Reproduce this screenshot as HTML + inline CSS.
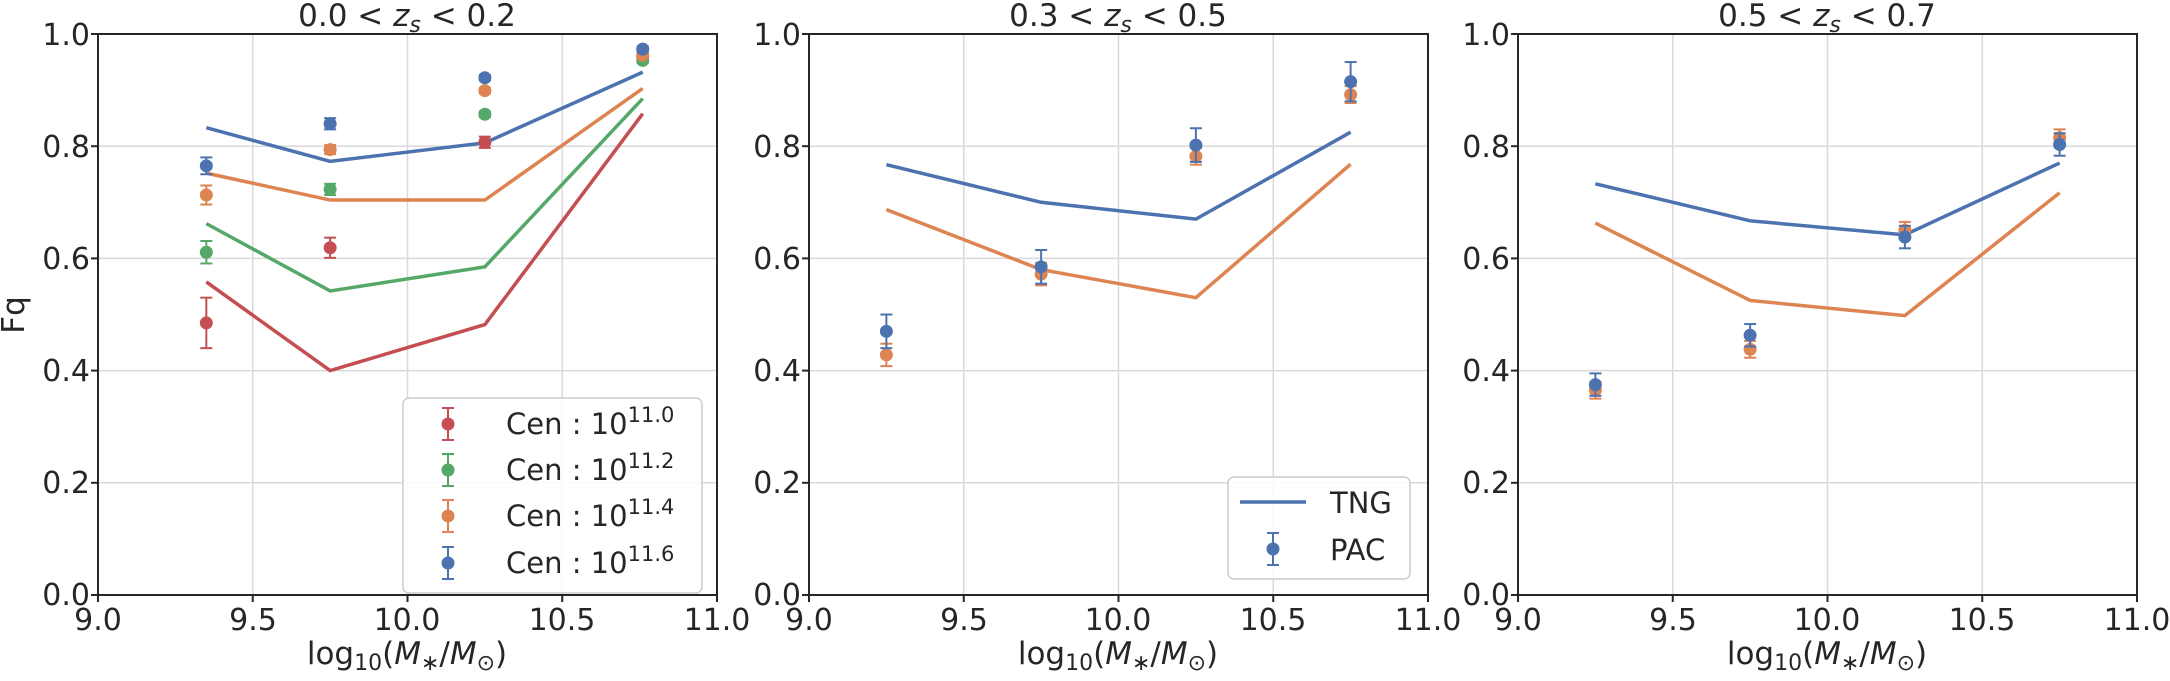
<!DOCTYPE html>
<html><head><meta charset="utf-8"><style>
body{margin:0;background:#fff}
svg text{font-family:"DejaVu Sans","Liberation Sans",sans-serif;fill:#262626}
</style></head><body>
<svg id="s" width="2170" height="676" xmlns="http://www.w3.org/2000/svg">
<g id="grid"></g>
<g id="data"></g>
<g font-size="31">
<text x="24" y="315" transform="rotate(-90 24 315)" text-anchor="middle">Fq</text>
<text x="407" y="26" text-anchor="middle">0.0 &lt; <tspan font-style="italic">z</tspan><tspan font-style="italic" font-size="22" dy="6">s</tspan><tspan dy="-6"> &lt; 0.2</tspan></text>
<text x="1118" y="26" text-anchor="middle">0.3 &lt; <tspan font-style="italic">z</tspan><tspan font-style="italic" font-size="22" dy="6">s</tspan><tspan dy="-6"> &lt; 0.5</tspan></text>
<text x="1827" y="26" text-anchor="middle">0.5 &lt; <tspan font-style="italic">z</tspan><tspan font-style="italic" font-size="22" dy="6">s</tspan><tspan dy="-6"> &lt; 0.7</tspan></text>
<text x="407" y="664" text-anchor="middle">log<tspan font-size="22" dy="6">10</tspan><tspan dy="-6">(</tspan><tspan font-style="italic">M</tspan><tspan font-size="22" dy="6">∗</tspan><tspan dy="-6">/</tspan><tspan font-style="italic">M</tspan><tspan font-size="22" dy="6">⊙</tspan><tspan dy="-6">)</tspan></text>
<text x="1118" y="664" text-anchor="middle">log<tspan font-size="22" dy="6">10</tspan><tspan dy="-6">(</tspan><tspan font-style="italic">M</tspan><tspan font-size="22" dy="6">∗</tspan><tspan dy="-6">/</tspan><tspan font-style="italic">M</tspan><tspan font-size="22" dy="6">⊙</tspan><tspan dy="-6">)</tspan></text>
<text x="1827" y="664" text-anchor="middle">log<tspan font-size="22" dy="6">10</tspan><tspan dy="-6">(</tspan><tspan font-style="italic">M</tspan><tspan font-size="22" dy="6">∗</tspan><tspan dy="-6">/</tspan><tspan font-style="italic">M</tspan><tspan font-size="22" dy="6">⊙</tspan><tspan dy="-6">)</tspan></text>
</g>
<g font-size="30" text-anchor="end" id="yt">
<text x="90" y="45">1.0</text><text x="90" y="157">0.8</text><text x="90" y="269">0.6</text><text x="90" y="381">0.4</text><text x="90" y="493">0.2</text><text x="90" y="605">0.0</text>
<text x="801" y="45">1.0</text><text x="801" y="157">0.8</text><text x="801" y="269">0.6</text><text x="801" y="381">0.4</text><text x="801" y="493">0.2</text><text x="801" y="605">0.0</text>
<text x="1510" y="45">1.0</text><text x="1510" y="157">0.8</text><text x="1510" y="269">0.6</text><text x="1510" y="381">0.4</text><text x="1510" y="493">0.2</text><text x="1510" y="605">0.0</text>
</g>
<g font-size="30" text-anchor="middle">
<text x="98" y="630">9.0</text><text x="253" y="630">9.5</text><text x="407" y="630">10.0</text><text x="562" y="630">10.5</text><text x="717" y="630">11.0</text>
<text x="809" y="630">9.0</text><text x="964" y="630">9.5</text><text x="1118" y="630">10.0</text><text x="1273" y="630">10.5</text><text x="1428" y="630">11.0</text>
<text x="1518" y="630">9.0</text><text x="1673" y="630">9.5</text><text x="1827" y="630">10.0</text><text x="1982" y="630">10.5</text><text x="2137" y="630">11.0</text>
</g>
<g id="leg">
<rect x="403" y="398" width="299" height="195" rx="6" fill="#fff" fill-opacity="0.85" stroke="#ccc" stroke-width="1.5"/>
<rect x="1228" y="477" width="182" height="102" rx="6" fill="#fff" fill-opacity="0.85" stroke="#ccc" stroke-width="1.5"/>
<g font-size="29">
<text x="506" y="434">Cen : 10<tspan font-size="21" dy="-12">11.0</tspan></text>
<text x="506" y="480">Cen : 10<tspan font-size="21" dy="-12">11.2</tspan></text>
<text x="506" y="526">Cen : 10<tspan font-size="21" dy="-12">11.4</tspan></text>
<text x="506" y="573">Cen : 10<tspan font-size="21" dy="-12">11.6</tspan></text>
<text x="1330" y="513">TNG</text>
<text x="1330" y="560">PAC</text>
</g>
</g>
</svg>
<script>
const NS="http://www.w3.org/2000/svg";
const X0=[98,809,1518],W=619,T=34,B=595;
const C={b:"#4c72b0",o:"#dd8452",g:"#55a868",r:"#c44e52"};
function el(p,t,a){const e=document.createElementNS(NS,t);for(const k in a)e.setAttribute(k,a[k]);p.appendChild(e);return e;}
const grid=document.getElementById('grid'),data=document.getElementById('data');
const px=(i,x)=>X0[i]+(x-9)/2*W, py=y=>B-y*(B-T);
for(let i=0;i<3;i++){
  for(let k=1;k<4;k++){const x=X0[i]+k*W/4;el(grid,'line',{x1:x,x2:x,y1:T,y2:B,stroke:'#d9d9d9','stroke-width':1.5});}
  for(let k=1;k<5;k++){const y=py(k*0.2);el(grid,'line',{x1:X0[i],x2:X0[i]+W,y1:y,y2:y,stroke:'#d9d9d9','stroke-width':1.5});}
  el(grid,'rect',{x:X0[i],y:T,width:W,height:B-T,fill:'none',stroke:'#262626','stroke-width':2});
  for(let k=0;k<5;k++){const x=X0[i]+k*W/4;el(grid,'line',{x1:x,x2:x,y1:B,y2:B+7,stroke:'#262626','stroke-width':2});}
  for(let k=0;k<6;k++){const y=py(k*0.2);el(grid,'line',{x1:X0[i]-7,x2:X0[i],y1:y,y2:y,stroke:'#262626','stroke-width':2});}
}
function line(i,xs,ys,c){el(data,'polyline',{points:xs.map((x,j)=>px(i,x)+','+py(ys[j])).join(' '),fill:'none',stroke:c,'stroke-width':3.5});}
function pt(i,x,y,e,c){const X=px(i,x);if(e>0){el(data,'line',{x1:X,x2:X,y1:py(y-e),y2:py(y+e),stroke:c,'stroke-width':2});
 [y-e,y+e].forEach(v=>el(data,'line',{x1:X-6,x2:X+6,y1:py(v),y2:py(v),stroke:c,'stroke-width':2}));}
 el(data,'circle',{cx:X,cy:py(y),r:6.5,fill:c});}
const x1=[9.35,9.75,10.25,10.76];
line(0,x1,[0.558,0.4,0.482,0.858],C.r);
line(0,x1,[0.662,0.542,0.585,0.885],C.g);
line(0,x1,[0.752,0.704,0.704,0.903],C.o);
line(0,x1,[0.833,0.773,0.806,0.932],C.b);
[[0.485,0.045],[0.619,0.018],[0.807,0.01],[0.96,0.005]].forEach((d,j)=>pt(0,x1[j],d[0],d[1],C.r));
[[0.611,0.02],[0.723,0.01],[0.857,0.005],[0.953,0.005]].forEach((d,j)=>pt(0,x1[j],d[0],d[1],C.g));
[[0.713,0.017],[0.794,0.008],[0.899,0.005],[0.962,0.005]].forEach((d,j)=>pt(0,x1[j],d[0],d[1],C.o));
[[0.765,0.015],[0.84,0.01],[0.922,0.005],[0.973,0.005]].forEach((d,j)=>pt(0,x1[j],d[0],d[1],C.b));
const x2=[9.25,9.75,10.25,10.75];
line(1,x2,[0.687,0.58,0.53,0.768],C.o);
line(1,x2,[0.767,0.70,0.67,0.825],C.b);
[[0.428,0.02],[0.572,0.02],[0.782,0.015],[0.892,0.015]].forEach((d,j)=>pt(1,x2[j],d[0],d[1],C.o));
[[0.47,0.03],[0.585,0.03],[0.802,0.03],[0.915,0.035]].forEach((d,j)=>pt(1,x2[j],d[0],d[1],C.b));
line(2,x2,[0.663,0.525,0.498,0.717],C.o);
line(2,x2,[0.733,0.667,0.642,0.77],C.b);
[[0.365,0.015],[0.438,0.015],[0.65,0.015],[0.815,0.015]].forEach((d,j)=>pt(2,x2[j],d[0],d[1],C.o));
[[0.375,0.02],[0.463,0.02],[0.638,0.02],[0.803,0.02]].forEach((d,j)=>pt(2,x2[j],d[0],d[1],C.b));
const leg=document.getElementById('leg');
function lm(x,y,c){el(leg,'line',{x1:x,x2:x,y1:y-16,y2:y+16,stroke:c,'stroke-width':2});
 [y-16,y+16].forEach(v=>el(leg,'line',{x1:x-6,x2:x+6,y1:v,y2:v,stroke:c,'stroke-width':2}));
 el(leg,'circle',{cx:x,cy:y,r:6.5,fill:c});}
lm(448,424,C.r);lm(448,470,C.g);lm(448,516,C.o);lm(448,563,C.b);
el(leg,'line',{x1:1240,x2:1306,y1:502,y2:502,stroke:C.b,'stroke-width':3.5});
lm(1273,549,C.b);
</script>
</body></html>
